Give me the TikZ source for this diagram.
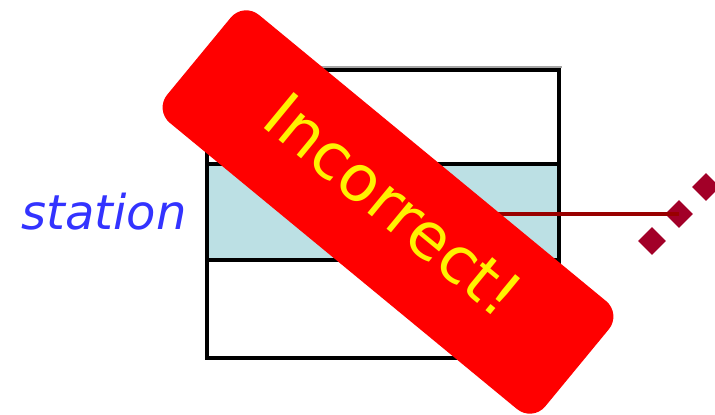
\documentclass[tikz,border=0pt]{standalone}
\usepackage{fontspec}
\setmainfont{DejaVu Sans}
\usetikzlibrary{shapes.geometric}

\definecolor{bandblue}{RGB}{188,224,228}
\definecolor{ptrred}{RGB}{153,0,0}
\definecolor{dotred}{RGB}{162,0,40}
\definecolor{namblue}{RGB}{51,51,255}

\begin{document}
\begin{tikzpicture}[
  x=1pt, y=-1pt,
  cell/.style   = {draw=black, line width=4.5pt, minimum width=352pt, inner sep=0pt},
  ptr/.style    = {draw=ptrred, line width=4.5pt},
  dot/.style    = {diamond, fill=dotred, minimum width=28pt, minimum height=28pt, inner sep=0pt},
  stamp/.style  = {fill=red, rounded corners=20pt, minimum width=490pt, minimum height=140pt,
                   rotate=-39.5, inner sep=0pt, text=yellow,
                   font=\fontsize{64}{64}\selectfont},
  varname/.style  = {text=namblue, font=\fontsize{48}{48}\selectfont\itshape},
]
\useasboundingbox (0,0) rectangle (715,415);

\def\bl{207}   % box left
\def\br{559}   % box right
\def\ya{70}    % box top
\def\yb{164}   % first divider
\def\yc{260}   % second divider
\def\yd{358}   % box bottom

% ---- record box -----------------------------------------------------------
\draw[gray!70, line width=2pt] (\bl-2, 67) -- (\br+3, 67);
\node[cell, minimum height=\yb-\ya] (topcell) at ({(\bl+\br)/2}, {(\ya+\yb)/2}) {};
\node[cell, fill=bandblue, minimum height=\yc-\yb] (stationcell) at ({(\bl+\br)/2}, {(\yb+\yc)/2}) {};
\node[cell, minimum height=\yd-\yc] (bottomcell) at ({(\bl+\br)/2}, {(\yc+\yd)/2}) {};

\node[varname, anchor=east] (station) at (190, 212) {station};

% ---- pointer out of the station field ----------------------------------------
\coordinate (ptrstart) at (420, 214);
\node[dot] (d1) at (652, 241) {};
\node[dot] (d2) at (679, 214) {};
\node[dot] (d3) at (706, 187) {};
\draw[ptr] (ptrstart) -- (d2.center);

% ---- stamp on top -------------------------------------------------------------
\node[stamp] (banner) at (388, 212) {\raisebox{-14pt}[0pt][0pt]{Incorrect!}};

\end{tikzpicture}
\end{document}
